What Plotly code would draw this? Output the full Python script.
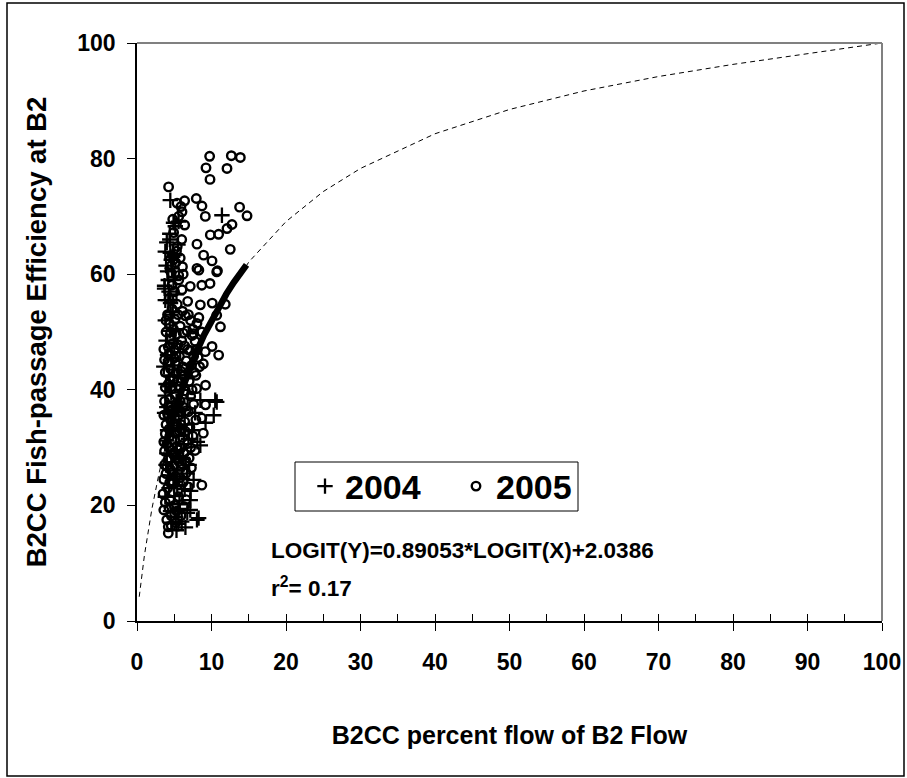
import plotly.graph_objects as go

# ---- data ----
x2004 = [4.47, 5.58, 5.14, 4.9, 5.5, 3.8, 4.47, 11.4, 3.8, 4.1, 4.7, 5.0, 4.3, 5.3, 4.9, 4.2, 4.5,
         10.5, 8.5, 10.7, 10.3, 9.2, 8.5, 7.6, 7.15, 7.15, 8.27, 8.05, 5.3, 6.5, 6.75, 5.55, 8.1,
         3.8, 4.4, 5.0, 4.1, 4.8, 5.5, 3.9, 4.6, 5.3, 6.0, 4.2, 4.9, 5.6, 6.3, 4.0, 4.7, 5.4, 6.1,
         4.3, 5.0, 5.7, 6.4, 4.5, 5.2, 6.0, 7.0, 7.4, 6.8, 7.8, 6.6, 5.8, 4.5, 5.9, 6.9, 7.2, 4.0,
         3.6, 5.2, 4.4, 3.7, 4.8, 5.1, 6.2, 5.6,
         3.7, 4.2, 3.9, 4.6, 4.0, 4.4, 5.0, 3.9, 4.3, 3.8, 4.1, 3.9, 4.2, 3.8, 4.6, 5.4, 5.8, 6.4,
         6.7, 5.1, 4.6, 5.2, 4.8,
         4.0, 4.6, 5.8, 3.7, 4.4, 5.0, 6.1, 5.6, 4.9]
y2004 = [72.8, 69.1, 68.3, 68.9, 65.1, 63.9, 63.7, 70.2, 55.5, 60.5, 61.0, 59.5, 57.0, 56.5, 59.0, 55.5, 53.0,
         38.2, 38.2, 37.9, 35.6, 34.3, 30.4, 24.4, 20.9, 19.2, 17.8, 17.5, 15.7, 16.2, 18.7, 16.8, 31.0,
         52.0, 50.2, 48.0, 46.0, 44.2, 42.5, 41.0, 39.5, 38.0, 36.5, 35.0, 33.4, 32.0, 30.6, 29.0, 27.5, 26.0, 24.6,
         23.0, 21.6, 20.2, 22.8, 19.0, 18.0, 17.2, 27.0, 33.0, 38.5, 36.0, 42.0, 46.5, 55.0, 40.0, 31.5, 22.5, 37.0,
         44.0, 29.5, 66.0, 58.0, 63.0, 25.0, 28.0, 35.5,
         57.5, 59.0, 61.5, 62.5, 65.5, 67.0, 63.3, 48.5, 42.5, 39.0, 33.0, 27.0, 25.2, 21.5, 17.0, 23.5, 28.5, 34.0,
         25.5, 36.5, 45.5, 50.5, 53.5,
         31.2, 28.6, 33.8, 36.0, 40.6, 43.5, 28.2, 19.4, 24.5]

x2005 = [9.75, 12.66, 13.87, 9.26, 12.08, 9.8, 4.24,
         6.39, 7.96, 8.72, 5.9, 5.37, 6.04, 9.17, 13.77, 14.77, 12.75, 12.08, 10.96, 9.84, 4.92, 12.52,
         8.05, 8.94, 10.07, 4.9, 5.8, 10.8, 8.05, 8.3, 10.7, 9.8, 8.7, 7.15, 6.04, 4.7, 8.5, 10.1, 11.85,
         10.7, 8.05, 11.2, 8.7, 10.96, 10.07, 7.6, 9.17, 8.7, 8.9, 8.7, 3.6, 4.2, 4.2, 9.2, 9.2, 8.9,
         4.0, 4.6, 5.2, 3.8, 4.4, 5.0, 5.6, 6.3, 4.1, 4.8, 5.5, 6.2, 6.9, 3.9, 4.5, 5.2, 5.9, 6.6, 7.3,
         4.2, 4.9, 5.6, 6.3, 7.0, 7.8, 4.0, 4.7, 5.4, 6.1, 6.8, 7.5, 4.3, 5.0, 5.7, 6.4, 7.1, 7.9,
         4.1, 4.8, 5.5, 6.2, 6.9, 7.6, 4.4, 5.1, 5.8, 6.5, 7.2, 8.0, 4.2, 4.9, 5.6, 6.3, 7.0, 7.7,
         4.5, 5.2, 5.9, 6.6, 7.3, 8.2, 4.3, 5.0, 5.7, 6.4, 7.1, 7.8, 4.6, 5.3, 6.0, 6.7, 7.4,
         4.4, 5.1, 5.8, 6.5, 7.2, 4.7, 5.4, 6.1, 6.8, 5.0, 5.6, 4.6, 5.3, 6.2, 4.8,
         3.5, 3.7, 3.6, 3.9, 3.7, 3.8, 3.6, 3.9, 4.1, 4.6, 5.3, 5.9, 6.6, 4.3, 5.8, 6.5, 7.2,
         4.6, 5.1, 5.9, 6.6, 7.4, 7.9, 8.4, 8.1, 7.6, 4.5, 4.2, 4.7, 5.4, 6.1, 6.8, 7.5, 8.3,
         4.4, 5.0, 5.5, 6.2, 6.9, 4.9, 5.5, 4.3, 5.0, 5.6, 4.6, 5.2, 6.1, 5.4, 6.0, 6.4, 5.6,
         3.6, 4.0, 4.4, 5.0, 5.5, 6.0, 3.7, 4.3, 5.1, 5.9, 6.5, 3.8, 4.4, 5.3, 6.0, 3.6, 4.3,
         5.2, 5.9, 3.8, 4.5, 5.2, 5.9, 6.5, 3.7, 4.2, 4.8, 3.9, 4.5]
y2005 = [80.4, 80.5, 80.2, 78.4, 78.3, 76.4, 75.1,
         72.7, 73.1, 71.8, 71.7, 72.3, 70.8, 70.0, 71.6, 70.1, 68.6, 67.9, 66.9, 66.8, 67.2, 64.3,
         65.2, 63.3, 62.3, 62.5, 62.8, 60.6, 61.0, 60.7, 60.4, 58.4, 58.1, 57.9, 57.3, 58.1, 54.7, 55.0, 54.8,
         52.9, 51.5, 50.9, 50.0, 46.0, 47.5, 49.7, 46.6, 35.1, 32.5, 23.5, 19.2, 16.3, 15.2, 40.8, 37.4, 44.5,
         17.5, 18.2, 17.0, 20.5, 21.0, 20.0, 21.5, 19.8, 23.0, 23.8, 22.6, 24.0, 23.2, 25.5, 26.2, 25.0, 26.8, 25.6, 26.5,
         28.0, 28.8, 27.6, 29.0, 28.2, 29.5, 30.6, 31.4, 30.2, 31.8, 30.7, 32.0, 33.2, 34.0, 32.8, 34.5, 33.5, 34.8,
         35.8, 36.6, 35.5, 37.0, 36.2, 37.5, 38.4, 39.2, 38.0, 39.8, 38.9, 40.2, 41.0, 41.8, 40.6, 42.4, 41.5, 43.0,
         43.6, 44.4, 43.2, 45.0, 44.2, 45.6, 46.2, 47.0, 45.8, 47.6, 46.8, 48.4, 48.8, 49.6, 48.5, 50.2, 49.4,
         51.4, 52.2, 51.0, 52.8, 52.0, 54.0, 54.8, 53.6, 55.3, 57.0, 59.8, 61.5, 64.0, 60.0, 69.5,
         22.0, 27.0, 31.0, 34.0, 38.0, 43.0, 47.0, 50.0, 53.0, 16.5, 19.0, 18.2, 21.0, 19.5, 24.8, 27.6, 30.0,
         29.5, 32.5, 34.0, 36.4, 40.0, 42.5, 44.0, 47.0, 45.8, 34.8, 37.2, 40.2, 41.5, 44.0, 47.0, 50.5, 52.5,
         44.8, 45.5, 47.8, 49.8, 53.0, 50.5, 53.0, 55.8, 57.0, 59.0, 60.2, 62.0, 61.3, 64.8, 66.0, 68.5, 70.0,
         24.5, 26.8, 24.0, 27.0, 29.6, 27.2, 29.4, 30.0, 29.0, 30.0, 32.8, 32.4, 32.0, 33.6, 33.0, 35.6, 36.4,
         37.0, 36.2, 40.4, 41.6, 42.8, 41.4, 43.8, 45.2, 47.4, 48.0, 52.0, 50.0]

# fitted curve, points
curve_x = [0.3, 0.5, 1, 2, 3, 4, 5, 7, 10, 15, 20, 25, 30, 40, 50, 60, 70, 80, 90, 95, 99, 100]
curve_y = [4.2, 6.4, 11.4, 19.4, 25.8, 31.2, 35.8, 43.4, 52.0, 62.1, 69.1, 74.3, 78.3, 84.3, 88.5,
           91.7, 94.2, 96.3, 98.2, 99.1, 99.8, 100]

# predicted values (thick segment)
pred_x = [3.8, 4, 5, 6, 7, 8, 9, 10, 11, 12, 13, 14, 14.7]
pred_y = [30.2, 31.2, 35.8, 39.9, 43.4, 46.6, 49.5, 52.0, 54.4, 56.6, 58.6, 60.4, 61.6]

x_ticks = [0, 10, 20, 30, 40, 50, 60, 70, 80, 90, 100]
y_ticks = [0, 20, 40, 60, 80, 100]

FONT = "Liberation Sans, Arial, sans-serif"

# plot-area pixel geometry helpers (plot area 745 x 578, left 137, top 43)
PL, PT, PW, PH = 137, 43, 745, 578
def px(xp): return (xp - PL) / PW
def py(yp): return (PT + PH - yp) / PH

fig = go.Figure()
fig.add_trace(go.Scatter(x=curve_x, y=curve_y, mode="lines", showlegend=False,
                         line=dict(color="black", width=1, dash="5px,4px"), hoverinfo="skip"))
fig.add_trace(go.Scatter(x=x2004, y=y2004, mode="markers", name="2004",
                         marker=dict(symbol="cross-thin-open", size=11, color="black",
                                     line=dict(color="black", width=2.3))))
fig.add_trace(go.Scatter(x=x2005, y=y2005, mode="markers", name="2005",
                         marker=dict(symbol="circle-open", size=8.5, color="black",
                                     line=dict(color="black", width=2.4))))
fig.add_trace(go.Scatter(x=pred_x, y=pred_y, mode="lines", showlegend=False,
                         line=dict(color="black", width=6.5), hoverinfo="skip"))
# overlay axis for inside ticks (crossing major ticks)
fig.add_trace(go.Scatter(x=[0], y=[0], xaxis="x2", mode="markers", showlegend=False,
                         marker=dict(opacity=0), hoverinfo="skip"))

fig.update_layout(
    width=907, height=778,
    margin=dict(l=PL, r=907 - PL - PW, t=PT, b=778 - PT - PH, autoexpand=False),
    paper_bgcolor="white", plot_bgcolor="white",
    font=dict(family=FONT, color="black"),
    xaxis=dict(range=[0, 100], tickvals=x_ticks, ticks="outside", ticklen=8, tickwidth=1,
               tickcolor="black", showline=True, linecolor="black", linewidth=1.5,
               showgrid=False, zeroline=False, ticklabelstandoff=12,
               tickfont=dict(size=23, weight="bold"),
               title=dict(text="B2CC percent flow of B2 Flow", standoff=52,
                          font=dict(size=25, weight="bold"))),
    xaxis2=dict(range=[0, 100], overlaying="x", anchor="y", side="bottom", dtick=5,
                tick0=0, ticks="inside", ticklen=7, tickwidth=1, tickcolor="black",
                showticklabels=False, showline=False, showgrid=False, zeroline=False),
    yaxis=dict(range=[0, 100], tickvals=y_ticks, ticks="outside", ticklen=8, tickwidth=1,
               tickcolor="black", showline=True, linecolor="black", linewidth=1.5,
               showgrid=False, zeroline=False, ticklabelstandoff=7,
               tickfont=dict(size=23, weight="bold"),
               title=dict(text="B2CC Fish-passage Efficiency at B2", standoff=23,
                          font=dict(size=27.5, weight="bold"))),
    legend=dict(orientation="h", x=px(305), y=py(486.5), xanchor="left", yanchor="middle",
                borderwidth=0, bgcolor="rgba(0,0,0,0)",
                font=dict(size=34, weight="bold"), entrywidth=106, entrywidthmode="pixels"),
    showlegend=True,
    shapes=[
        dict(type="rect", xref="paper", yref="paper", x0=px(7), x1=px(904), y0=py(776), y1=py(3),
             line=dict(color="black", width=1.5)),
        dict(type="line", xref="paper", yref="paper", x0=0, x1=1, y0=1, y1=1,
             line=dict(color="#808080", width=2)),
        dict(type="line", xref="paper", yref="paper", x0=1, x1=1, y0=0, y1=1,
             line=dict(color="#808080", width=2)),
        dict(type="rect", xref="paper", yref="paper", x0=px(295), x1=px(578), y0=py(511), y1=py(462),
             line=dict(color="black", width=1), fillcolor="white", layer="below"),
    ],
    annotations=[
        dict(text="LOGIT(Y)=0.89053*LOGIT(X)+2.0386", xref="paper", yref="paper",
             x=px(269), y=py(550), xanchor="left", yanchor="middle", showarrow=False,
             font=dict(size=22.5, weight="bold")),
        dict(text="r<sup>2</sup>= 0.17", xref="paper", yref="paper",
             x=px(269), y=py(587), xanchor="left", yanchor="middle", showarrow=False,
             font=dict(size=22.5, weight="bold")),
    ],
)

fig.write_html("out.html", post_script="document.body.style.margin='0';",
               config={"displayModeBar": False})
